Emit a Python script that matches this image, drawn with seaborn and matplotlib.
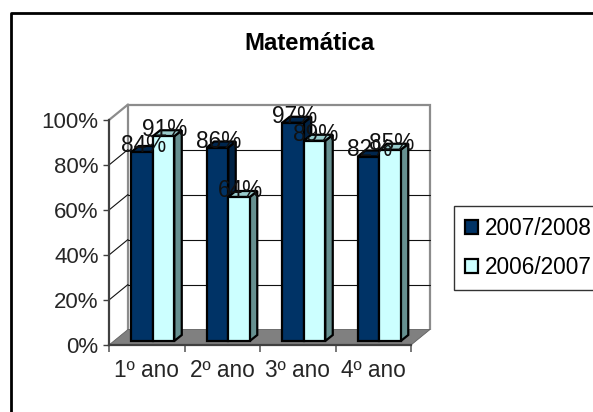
import matplotlib
matplotlib.use("Agg")
import matplotlib.pyplot as plt
from matplotlib.lines import Line2D
from matplotlib.patches import Polygon, Rectangle
from matplotlib.transforms import Affine2D
import pandas as pd
import seaborn as sns

categories = ["1º ano", "2º ano", "3º ano", "4º ano"]
series_a = [84, 86, 97, 82]
series_b = [91, 64, 89, 85]
name_a = "2007/2008"
name_b = "2006/2007"
title = "Matemática"
y_ticks = [0, 20, 40, 60, 80, 100]

W, H, DPI = 593, 412, 100
sns.set_theme(style="white")
plt.rcParams["font.family"] = ["Liberation Sans", "DejaVu Sans"]
plt.rcParams["text.color"] = "black"
FS = 16.3
LW = 1.6

fig = plt.figure(figsize=(W / DPI, H / DPI), dpi=DPI, facecolor="white")
# front plane of the chart box, in pixels
L, R, TOP, BOT = 109, 411, 120, 345
ax = fig.add_axes([L / W, 1 - BOT / H, (R - L) / W, (BOT - TOP) / H])
ax.patch.set_alpha(0)

df = pd.DataFrame({
    "ano": categories * 2,
    "valor": series_a + series_b,
    "serie": [name_a] * 4 + [name_b] * 4,
})
sns.barplot(data=df, x="ano", y="valor", hue="serie", order=categories,
            hue_order=[name_a, name_b], palette=["#003366", "#CCFFFF"],
            width=0.57, gap=0, edgecolor="black", linewidth=LW, saturation=1,
            errorbar=None, ax=ax, legend=False, zorder=3)
ax.set_xlim(-0.5, 3.5)
ax.set_ylim(0, 100)


def shift(dx, dy):
    return ax.transData + Affine2D().translate(dx, dy)


WALL = (19, 15.5)
BAR = (6, 4)
DEPTH = (7.5, 6)
GREY = "#8c8c8c"

# back wall, floor and gridlines
ax.add_patch(Polygon([(-0.5, 0), (-0.5, 100), (3.5, 100), (3.5, 0)], closed=False,
                     transform=shift(*WALL), fill=False, edgecolor=GREY, lw=LW,
                     clip_on=False, zorder=1))
for v in y_ticks[1:-1]:
    ax.plot([-0.5, 3.5], [v, v], transform=shift(*WALL), color="#111111", lw=0.8,
            clip_on=False, zorder=1)
for v in y_ticks[1:]:
    a = ax.transData.transform((-0.5, v))
    ax.add_line(Line2D([a[0], a[0] + WALL[0]], [a[1], a[1] + WALL[1]], transform=None,
                       color=GREY if v == 100 else "#111111",
                       lw=LW if v == 100 else 0.8, clip_on=False, zorder=1))
p0, p1 = ax.transData.transform((-0.5, 0)), ax.transData.transform((3.5, 0))
ax.add_patch(Polygon([p0, p1, p1 + WALL, p0 + WALL], transform=None, facecolor="#808080",
                     edgecolor="#606060", lw=0.6, clip_on=False, zorder=1.5))

# bars: seaborn front faces moved into the box, sides and tops from their geometry
side_col = {"#003366": ("#002244", "#00264d"), "#CCFFFF": ("#669090", "#99CCCC")}
bars = [b for c in ax.containers for b in c]
cols = ["#003366"] * 4 + ["#CCFFFF"] * 4
for b, col, val in zip(bars, cols, series_a + series_b):
    b.set_transform(shift(*BAR))
    b.set_clip_on(False)
    x, w, h = b.get_x(), b.get_width(), b.get_height()
    fr = ax.transData.transform((x + w, 0)) + BAR
    tl = ax.transData.transform((x, h)) + BAR
    tr = ax.transData.transform((x + w, h)) + BAR
    side, top = side_col[col]
    ax.add_patch(Polygon([fr, tr, tr + DEPTH, fr + DEPTH], transform=None, facecolor=side,
                         edgecolor="black", lw=LW, clip_on=False, zorder=2))
    ax.add_patch(Polygon([tl, tr, tr + DEPTH, tl + DEPTH], transform=None, facecolor=top,
                         edgecolor="black", lw=LW, clip_on=False, zorder=2))
    ax.text(x + w / 2, h, f"{val}%", transform=shift(BAR[0] + 1.5, BAR[1]), ha="center",
            va="baseline", fontsize=FS, color="#111111", clip_on=False, zorder=6)

# axes
for s in ("top", "right"):
    ax.spines[s].set_visible(False)
for s in ("left", "bottom"):
    ax.spines[s].set_color("#404040")
    ax.spines[s].set_linewidth(LW)
    ax.spines[s].set_zorder(4)
ax.set_xlabel("")
ax.set_ylabel("")
ax.set_yticks(y_ticks, [f"{v}%" for v in y_ticks])
ax.set_xticks([-0.5, 0.5, 1.5, 2.5, 3.5], [""] * 5)
ax.set_xticks(range(4), categories, minor=True)
ax.tick_params(axis="y", length=4.5, width=1, color="#404040", pad=3, labelsize=16, left=True)
ax.tick_params(axis="x", which="major", length=5, width=1.2, color="#606060", bottom=True)
ax.tick_params(axis="x", which="minor", length=0, pad=10, labelsize=FS)

fig.text(309.5 / W, 1 - 50 / H, title, ha="center", va="baseline", fontsize=17.2,
         fontweight="bold", color="black")

# chart border, open on the right and bottom
fig.add_artist(Line2D([11 / W, 11 / W, 1], [0, 1 - 13 / H, 1 - 13 / H], color="black", lw=2))

handles = [Rectangle((0, 0), 1, 1, facecolor="#003366", edgecolor="black", lw=LW),
           Rectangle((0, 0), 1, 1, facecolor="#CCFFFF", edgecolor="black", lw=LW)]
leg = fig.legend(handles, [name_a, name_b], loc="upper left",
                 bbox_to_anchor=(454 / W, 1 - 206 / H), bbox_transform=fig.transFigure,
                 fontsize=FS, frameon=True, fancybox=False, edgecolor="#333333",
                 framealpha=1, handlelength=0.58, handleheight=0.58, handletextpad=0.3,
                 labelspacing=0.72, borderpad=0.47, borderaxespad=0, labelcolor="black")
leg.get_frame().set_linewidth(1)

fig.savefig("out.png", dpi=DPI)
